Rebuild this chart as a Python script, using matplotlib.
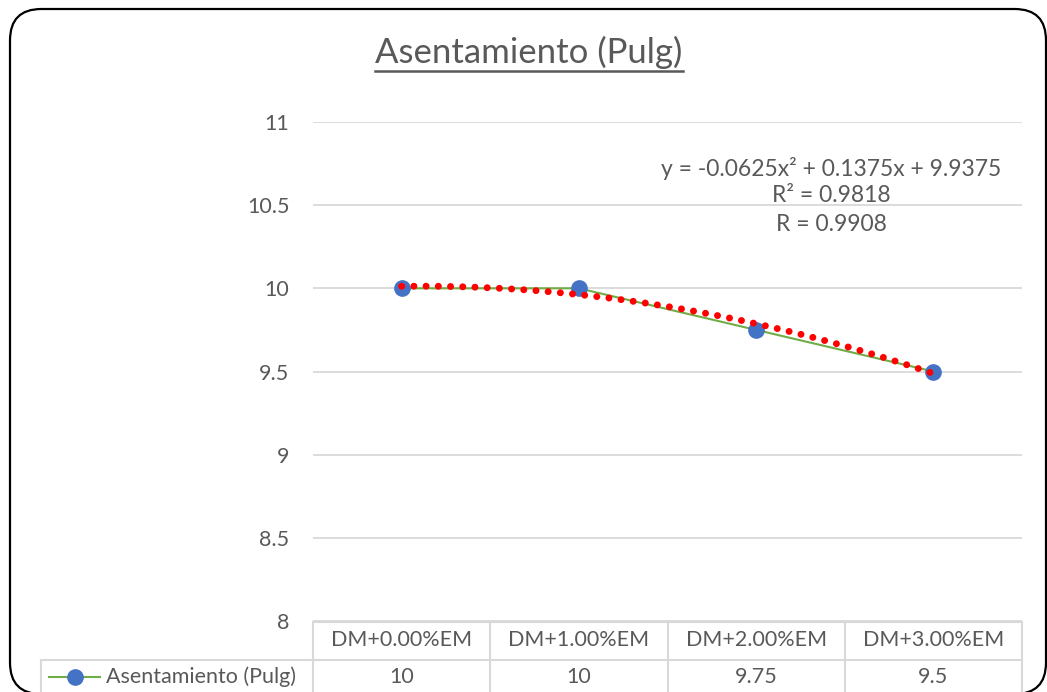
import numpy as np
import matplotlib
matplotlib.use("Agg")
import matplotlib.pyplot as plt
from matplotlib.patches import FancyBboxPatch
from matplotlib.lines import Line2D

plt.rcParams['font.family'] = ['Lato', 'DejaVu Sans']

categorias = ['DM+0.00%EM', 'DM+1.00%EM', 'DM+2.00%EM', 'DM+3.00%EM']
asentamiento = [10, 10, 9.75, 9.5]
etiquetas_tabla = ['10', '10', '9.75', '9.5']
serie = 'Asentamiento (Pulg)'
y_ticks = [8, 8.5, 9, 9.5, 10, 10.5, 11]
y_tick_labels = ['8', '8.5', '9', '9.5', '10', '10.5', '11']

W, H = 1047, 692
gris = '#595959'
rejilla = '#D9D9D9'
fs = 15.5

fig = plt.figure(figsize=(W / 100, H / 100), dpi=100)


def fx(px):
    return px / W


def fy(py):
    return 1 - py / H


# area de trazado
x0, x1, ytop, ybot = 313, 1022, 122, 621
ax = fig.add_axes([fx(x0), fy(ybot), fx(x1) - fx(x0), fy(ytop) - fy(ybot)])
ax.set_xlim(-0.5, len(categorias) - 0.5)
ax.set_ylim(8, 11)
ax.set_yticks(y_ticks)
ax.set_yticklabels(y_tick_labels, fontsize=fs, color=gris)
ax.tick_params(axis='y', length=0, pad=17)
ax.set_xticks([])
for s in ax.spines.values():
    s.set_visible(False)
ax.grid(axis='y', color=rejilla, lw=1.3)
ax.set_axisbelow(True)

xs = np.arange(len(categorias))
ax.plot(xs, asentamiento, color='#70AD47', lw=1.5, marker='o', ms=11,
        mfc='#4472C4', mec='#4472C4', zorder=3)

# tendencia polinomica de orden 2 (x = 1..4 como en Excel)
xn = xs + 1
coef = np.polyfit(xn, asentamiento, 2)
xt = np.linspace(1, len(categorias), 200)
yt = np.polyval(coef, xt)
ax.plot(xt - 1, yt, color='#FF0000', lw=5, linestyle=(0, (0.01, 1.75)),
        dash_capstyle='round', zorder=4)

yv = np.array(asentamiento)
pred = np.polyval(coef, xn)
r2 = 1 - np.sum((yv - pred) ** 2) / np.sum((yv - yv.mean()) ** 2)
r = np.floor(np.sqrt(r2) * 1e4) / 1e4
eq = 'y = {:.4f}x² + {:.4f}x + {:.4f}'.format(coef[0], coef[1], coef[2])
fig.text(fx(831), fy(168), eq, ha='center', va='center', fontsize=16.5, color=gris)
fig.text(fx(831), fy(196), 'R² = {:.4f}'.format(r2), ha='center', va='center', fontsize=16.5, color=gris)
fig.text(fx(831), fy(224), 'R = {:.4f}'.format(r), ha='center', va='center', fontsize=16.5, color=gris)

# titulo subrayado
t = fig.text(fx(529), fy(52), serie, ha='center', va='center', fontsize=25, color=gris)
fig.canvas.draw()
bb = t.get_window_extent()
fig.add_artist(Line2D([bb.x0 / W, bb.x1 / W], [fy(71), fy(71)], transform=fig.transFigure,
                      color=gris, lw=1.8))

# tabla de datos
bordes = np.linspace(x0, x1, len(categorias) + 1)
tl = dict(transform=fig.transFigure, color=rejilla, lw=1.5)
fig.add_artist(Line2D([fx(x0), fx(x1)], [fy(622), fy(622)], **tl))
fig.add_artist(Line2D([fx(41), fx(x1)], [fy(660), fy(660)], **tl))
for b in bordes:
    fig.add_artist(Line2D([fx(b), fx(b)], [fy(622), fy(H)], **tl))
fig.add_artist(Line2D([fx(41), fx(41)], [fy(660), fy(H)], **tl))
for i, c in enumerate(categorias):
    cx = (bordes[i] + bordes[i + 1]) / 2
    fig.text(fx(cx), fy(640), c, ha='center', va='center', fontsize=fs, color=gris)
    fig.text(fx(cx), fy(677), etiquetas_tabla[i], ha='center', va='center', fontsize=fs, color=gris)

fig.add_artist(Line2D([fx(49), fx(100)], [fy(677), fy(677)], transform=fig.transFigure,
                      color='#70AD47', lw=1.5))
fig.add_artist(Line2D([fx(74.5)], [fy(677)], transform=fig.transFigure, marker='o', ms=11,
                      mfc='#4472C4', mec='#4472C4'))
fig.text(fx(106), fy(677), serie, ha='left', va='center', fontsize=fs, color=gris)

# marco redondeado
marco = FancyBboxPatch((fx(10), fy(694)), fx(1046) - fx(10), fy(9) - fy(694),
                       boxstyle='round,pad=0,rounding_size=0.03', transform=fig.transFigure,
                       fill=False, ec='black', lw=1.6, mutation_aspect=W / H)
fig.add_artist(marco)

fig.savefig('out.png', dpi=100)
